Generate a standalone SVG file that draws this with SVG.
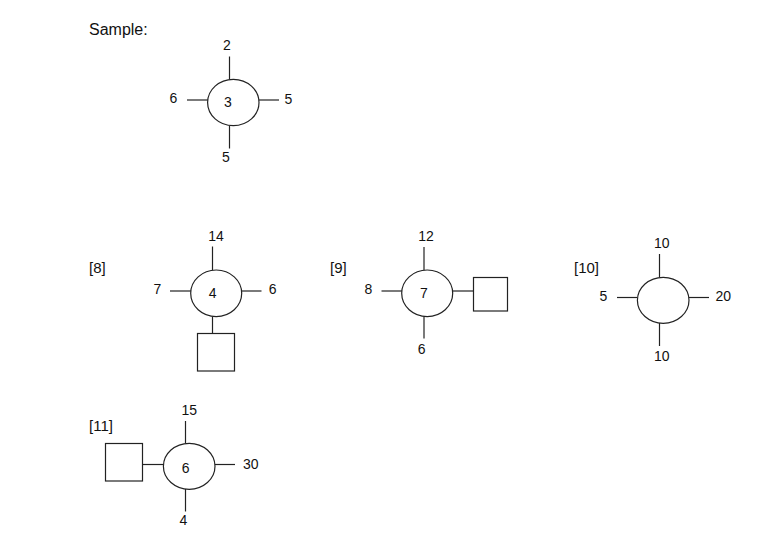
<svg xmlns="http://www.w3.org/2000/svg" width="771" height="534" viewBox="0 0 771 534">
<style>
.t{font-family:"Liberation Sans",Arial,sans-serif;font-size:14px;fill:#111;text-anchor:middle}
.h{font-family:"Liberation Sans",Arial,sans-serif;font-size:15px;fill:#111}
.s{font-family:"Liberation Sans",Arial,sans-serif;font-size:16px;fill:#111}
.o{fill:#fff;stroke:#222;stroke-width:1.2}
.c line{stroke:#222;stroke-width:1.2}
</style>
<rect width="771" height="534" fill="#fff"/>
<text class="s" x="89" y="35">Sample:</text>
<text class="h" x="89" y="273">[8]</text>
<text class="h" x="330" y="273">[9]</text>
<text class="h" x="574" y="273">[10]</text>
<text class="h" x="89" y="431">[11]</text>
<g id="connectors" class="c">
<line x1="229.5" y1="56.5" x2="229.5" y2="79.5"/>
<line x1="187" y1="100" x2="208" y2="100"/>
<line x1="259" y1="100" x2="279" y2="100"/>
<line x1="229.5" y1="125.5" x2="229.5" y2="148.5"/>
<line x1="212.5" y1="246.5" x2="212.5" y2="270.5"/>
<line x1="170" y1="291" x2="191" y2="291"/>
<line x1="241.5" y1="291" x2="261.5" y2="291"/>
<line x1="212.5" y1="316.5" x2="212.5" y2="333.5"/>
<line x1="424" y1="247" x2="424" y2="270.5"/>
<line x1="381.5" y1="291" x2="402" y2="291"/>
<line x1="452.5" y1="291" x2="473.5" y2="291"/>
<line x1="424" y1="316.5" x2="424" y2="338.5"/>
<line x1="659.5" y1="254" x2="659.5" y2="277.5"/>
<line x1="617" y1="297.5" x2="637.5" y2="297.5"/>
<line x1="689" y1="297.5" x2="709" y2="297.5"/>
<line x1="659.5" y1="323" x2="659.5" y2="346"/>
<line x1="185.5" y1="421" x2="185.5" y2="443.5"/>
<line x1="142.5" y1="464.5" x2="163.5" y2="464.5"/>
<line x1="215" y1="464.5" x2="235" y2="464.5"/>
<line x1="185.5" y1="489" x2="185.5" y2="511.5"/>
</g>
<g id="sample">
<ellipse class="o" cx="233.3" cy="102.5" rx="25.7" ry="23.2"/>
<text class="t" x="228" y="107">3</text>
<text class="t" x="227" y="50">2</text>
<text class="t" x="173.5" y="103">6</text>
<text class="t" x="288.5" y="104">5</text>
<text class="t" x="226" y="162">5</text>
</g>
<g id="n8">
<ellipse class="o" cx="216.2" cy="293.3" rx="25.5" ry="23.3"/>
<text class="t" x="212.7" y="297.5">4</text>
<text class="t" x="216" y="241">14</text>
<text class="t" x="157.3" y="294">7</text>
<text class="t" x="272.7" y="294">6</text>
</g>
<g id="n8box"><rect class="o" x="197.5" y="333.5" width="37" height="37.5"/></g>
<g id="n9">
<ellipse class="o" cx="427.2" cy="293.3" rx="25.5" ry="23.3"/>
<text class="t" x="424" y="297.5">7</text>
<text class="t" x="426" y="241">12</text>
<text class="t" x="368.3" y="294">8</text>
<text class="t" x="421.7" y="353.5">6</text>
</g>
<g id="n9box"><rect class="o" x="473.5" y="277.5" width="34" height="33.5"/></g>
<g id="n10">
<ellipse class="o" cx="663.2" cy="300.3" rx="25.8" ry="23"/>
<text class="t" x="661.7" y="248">10</text>
<text class="t" x="603.3" y="301">5</text>
<text class="t" x="723.3" y="301">20</text>
<text class="t" x="661.7" y="361">10</text>
</g>
<g id="n11">
<ellipse class="o" cx="189.2" cy="466.3" rx="25.8" ry="23"/>
<text class="t" x="185.7" y="472.5">6</text>
<text class="t" x="189.3" y="414.5">15</text>
<text class="t" x="250.7" y="469">30</text>
<text class="t" x="183.3" y="525">4</text>
</g>
<g id="n11box"><rect class="o" x="105.5" y="443.5" width="37" height="37.5"/></g>
</svg>
